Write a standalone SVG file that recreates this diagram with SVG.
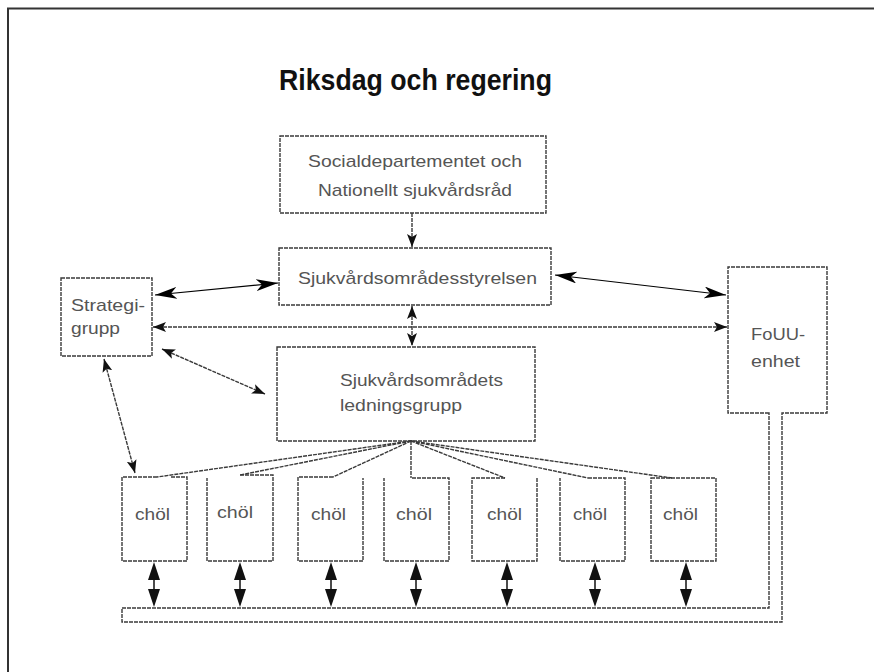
<svg xmlns="http://www.w3.org/2000/svg" width="874" height="672" viewBox="0 0 874 672">
<defs>
<style>
.box{fill:#fff;stroke:#3a3a3a;stroke-width:1.4;stroke-dasharray:4 1}
.ln{fill:none;stroke:#3a3a3a;stroke-width:1.4;stroke-dasharray:4 1}
.sol{fill:none;stroke:#000;stroke-width:1.2}
.t{font-family:"Liberation Sans Narrow","Liberation Sans",Arial,sans-serif;font-size:17px;fill:#555}
.title{font-family:"Liberation Sans Narrow","Liberation Sans",Arial,sans-serif;font-size:30px;font-weight:bold;fill:#111}
.hd{fill:#111}
</style>
<marker id="big" viewBox="0 0 22 12" refX="22" refY="6" markerWidth="22" markerHeight="12" markerUnits="userSpaceOnUse" orient="auto-start-reverse">
<path d="M0,0 L22,6 L0,12 L6,6 Z" fill="#000"/>
</marker>
<marker id="sm" viewBox="0 0 13 10" refX="13" refY="5" markerWidth="13" markerHeight="10" markerUnits="userSpaceOnUse" orient="auto-start-reverse">
<path d="M0,0 L13,5 L0,10 L3,5 Z" fill="#111"/>
</marker>
</defs>
<rect width="874" height="672" fill="#fff"/>
<path d="M8,672 V8.5 H874" fill="none" stroke="#333" stroke-width="2"/>
<text class="title" x="279" y="90" textLength="273" lengthAdjust="spacingAndGlyphs">Riksdag och regering</text>

<g id="socialdep">
<rect class="box" x="280" y="136" width="266" height="77"/>
<text class="t" x="308" y="167" textLength="214" lengthAdjust="spacingAndGlyphs">Socialdepartementet och</text>
<text class="t" x="318" y="196" textLength="194" lengthAdjust="spacingAndGlyphs">Nationellt sjukvårdsråd</text>
</g>
<g id="styrelsen">
<rect class="box" x="279" y="248" width="272" height="57"/>
<text class="t" x="298" y="284" textLength="239" lengthAdjust="spacingAndGlyphs">Sjukvårdsområdesstyrelsen</text>
</g>
<g id="ledningsgrupp">
<rect class="box" x="277" y="347" width="258" height="94"/>
<text class="t" x="340" y="386" textLength="163" lengthAdjust="spacingAndGlyphs">Sjukvårdsområdets</text>
<text class="t" x="340" y="411" textLength="122" lengthAdjust="spacingAndGlyphs">ledningsgrupp</text>
</g>
<g id="strategigrupp">
<rect class="box" x="61" y="278" width="91" height="78"/>
<text class="t" x="71" y="311" textLength="74" lengthAdjust="spacingAndGlyphs">Strategi-</text>
<text class="t" x="71" y="334" textLength="49" lengthAdjust="spacingAndGlyphs">grupp</text>
</g>
<g id="fouu">
<path class="ln" d="M769,413 H728 V267 H827 V413 H782 V622 H122 V608 H769 Z"/>
<text class="t" x="751" y="340" textLength="54" lengthAdjust="spacingAndGlyphs">FoUU-</text>
<text class="t" x="751" y="367" textLength="49" lengthAdjust="spacingAndGlyphs">enhet</text>
</g>
<g id="chol1">
<path class="ln" d="M157,477 H122 V561 H187 V477 H170"/>
<text class="t" x="135" y="520" textLength="35" lengthAdjust="spacingAndGlyphs">chöl</text>
</g>
<g id="chol2">
<path class="ln" d="M240,475 H273 V561 H207 V478"/>
<text class="t" x="217" y="518" textLength="36" lengthAdjust="spacingAndGlyphs">chöl</text>
</g>
<g id="chol3">
<path class="ln" d="M333,477 H298 V561 H363 V478"/>
<text class="t" x="311" y="520" textLength="35" lengthAdjust="spacingAndGlyphs">chöl</text>
</g>
<g id="chol4">
<path class="ln" d="M412,478 H449 V561 H384 V478"/>
<text class="t" x="396" y="520" textLength="36" lengthAdjust="spacingAndGlyphs">chöl</text>
</g>
<g id="chol5">
<path class="ln" d="M505,478 H472 V561 H537 V478"/>
<text class="t" x="487" y="520" textLength="35" lengthAdjust="spacingAndGlyphs">chöl</text>
</g>
<g id="chol6">
<path class="ln" d="M588,478 H625 V561 H560 V478"/>
<text class="t" x="573" y="520" textLength="34" lengthAdjust="spacingAndGlyphs">chöl</text>
</g>
<g id="chol7">
<rect class="box" x="651" y="478" width="65" height="83"/>
<text class="t" x="663" y="520" textLength="35" lengthAdjust="spacingAndGlyphs">chöl</text>
</g>

<g id="connectors">
<line class="ln" x1="412" y1="213" x2="412" y2="247" marker-end="url(#sm)"/>
<line class="ln" x1="412" y1="306" x2="412" y2="346" marker-start="url(#sm)" marker-end="url(#sm)"/>
<line class="sol" x1="155" y1="295" x2="278" y2="283" marker-start="url(#big)" marker-end="url(#big)"/>
<line class="sol" x1="555" y1="275" x2="726" y2="295" marker-start="url(#big)" marker-end="url(#big)"/>
<line class="ln" x1="153" y1="327" x2="727" y2="327" marker-start="url(#sm)" marker-end="url(#sm)"/>
<line class="ln" x1="162" y1="349" x2="265" y2="394" marker-start="url(#sm)" marker-end="url(#sm)"/>
<line class="ln" x1="104" y1="359" x2="135" y2="473" marker-start="url(#sm)" marker-end="url(#sm)"/>
<path class="ln" d="M411,441 L157,477 M411,441 L240,475 M411,441 L333,477 M411,441 V478 M411,441 L505,478 M411,441 L588,478 M411,441 L672,478"/>
<g id="chol-bus">
<g transform="translate(154,0)"><path class="hd" d="M0,562 L-6,580 L6,580 Z M-6,589 L6,589 L0,607 Z"/><line x1="0" y1="578" x2="0" y2="591" stroke="#111" stroke-width="1.5"/></g>
<g transform="translate(240,0)"><path class="hd" d="M0,562 L-6,580 L6,580 Z M-6,589 L6,589 L0,607 Z"/><line x1="0" y1="578" x2="0" y2="591" stroke="#111" stroke-width="1.5"/></g>
<g transform="translate(331,0)"><path class="hd" d="M0,562 L-6,580 L6,580 Z M-6,589 L6,589 L0,607 Z"/><line x1="0" y1="578" x2="0" y2="591" stroke="#111" stroke-width="1.5"/></g>
<g transform="translate(416,0)"><path class="hd" d="M0,562 L-6,580 L6,580 Z M-6,589 L6,589 L0,607 Z"/><line x1="0" y1="578" x2="0" y2="591" stroke="#111" stroke-width="1.5"/></g>
<g transform="translate(507,0)"><path class="hd" d="M0,562 L-6,580 L6,580 Z M-6,589 L6,589 L0,607 Z"/><line x1="0" y1="578" x2="0" y2="591" stroke="#111" stroke-width="1.5"/></g>
<g transform="translate(595,0)"><path class="hd" d="M0,562 L-6,580 L6,580 Z M-6,589 L6,589 L0,607 Z"/><line x1="0" y1="578" x2="0" y2="591" stroke="#111" stroke-width="1.5"/></g>
<g transform="translate(686,0)"><path class="hd" d="M0,562 L-6,580 L6,580 Z M-6,589 L6,589 L0,607 Z"/><line x1="0" y1="578" x2="0" y2="591" stroke="#111" stroke-width="1.5"/></g>
</g>
</g>
</svg>
